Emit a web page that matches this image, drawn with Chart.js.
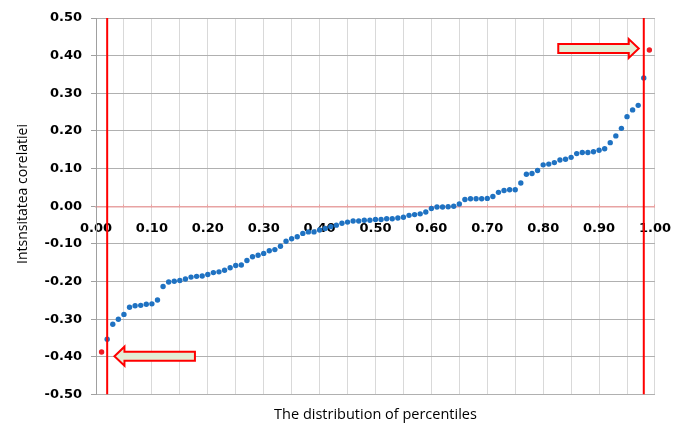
<!DOCTYPE html>
<html>
<head>
<meta charset="utf-8">
<script src="https://cdn.jsdelivr.net/npm/chart.js@4/dist/chart.umd.min.js"></script>
<style>
  html, body { margin: 0; padding: 0; background: #fff; }
  #wrap { width: 689px; height: 424px; }
</style>
</head>
<body>
<div id="wrap"><canvas id="chart" width="689" height="424"></canvas></div>
<script>
// Percentiles (x) and correlation strength (y)
const blueX = [0.02, 0.03, 0.04, 0.05, 0.06, 0.07, 0.08, 0.09, 0.10,
    0.11, 0.12, 0.13, 0.14, 0.15, 0.16, 0.17, 0.18, 0.19, 0.20,
    0.21, 0.22, 0.23, 0.24, 0.25, 0.26, 0.27, 0.28, 0.29, 0.30,
    0.31, 0.32, 0.33, 0.34, 0.35, 0.36, 0.37, 0.38, 0.39, 0.40,
    0.41, 0.42, 0.43, 0.44, 0.45, 0.46, 0.47, 0.48, 0.49, 0.50,
    0.51, 0.52, 0.53, 0.54, 0.55, 0.56, 0.57, 0.58, 0.59, 0.60,
    0.61, 0.62, 0.63, 0.64, 0.65, 0.66, 0.67, 0.68, 0.69, 0.70,
    0.71, 0.72, 0.73, 0.74, 0.75, 0.76, 0.77, 0.78, 0.79, 0.80,
    0.81, 0.82, 0.83, 0.84, 0.85, 0.86, 0.87, 0.88, 0.89, 0.90,
    0.91, 0.92, 0.93, 0.94, 0.95, 0.96, 0.97, 0.98];
const blueY = [-0.353, -0.313, -0.300, -0.287, -0.268, -0.264, -0.263, -0.260, -0.259,
    -0.249, -0.213, -0.201, -0.199, -0.197, -0.193, -0.188, -0.186, -0.185, -0.181,
    -0.176, -0.174, -0.170, -0.163, -0.157, -0.156, -0.144, -0.134, -0.130, -0.125,
    -0.118, -0.115, -0.106, -0.093, -0.086, -0.081, -0.072, -0.068, -0.068, -0.063,
    -0.059, -0.054, -0.050, -0.045, -0.042, -0.039, -0.039, -0.037, -0.037, -0.035,
    -0.035, -0.033, -0.033, -0.031, -0.029, -0.024, -0.022, -0.020, -0.015, -0.006,
    -0.002, -0.002, -0.001, 0.000, 0.006, 0.018, 0.020, 0.020, 0.020, 0.021,
    0.026, 0.037, 0.042, 0.044, 0.044, 0.062, 0.085, 0.087, 0.095, 0.110,
    0.112, 0.116, 0.123, 0.125, 0.130, 0.140, 0.143, 0.143, 0.145, 0.149,
    0.153, 0.169, 0.187, 0.207, 0.238, 0.256, 0.268, 0.341];

// Extremes (outside the cut-offs)
const redX = [0.01, 0.99];
const redY = [-0.387, 0.415];

// Cut-off lines
const cutoffs = [0.02, 0.98];

// Arrows: tip [x, y] and tail x, in data units
const arrowTips = [[0.033, -0.398], [0.971, 0.419]];
const arrowTails = [0.177, 0.827];

const yTitle = 'Intsnsitatea corelatiei';
const xTitle = 'The distribution of percentiles';

function toPoints(xs, ys) {
    return xs.map(function (x, i) { return { x: x, y: ys[i] }; });
}

const tickFont = { family: 'DejaVu Sans', size: 13, weight: 'bold' };
const titleFamily = 'Open Sans';

// Draw the y title and the two arrows
const extrasPlugin = {
    id: 'extras',
    afterDraw(chart) {
        const ctx = chart.ctx;
        const xs = chart.scales.x, ys = chart.scales.y;

        ctx.save();
        ctx.fillStyle = '#000';
        ctx.font = '14px "' + titleFamily + '"';
        ctx.textAlign = 'center';
        ctx.textBaseline = 'middle';
        ctx.translate(23, 194);
        ctx.rotate(-Math.PI / 2);
        ctx.fillText(yTitle, 0, 0);
        ctx.restore();

        arrowTips.forEach(function (tip, i) {
            const tipX = xs.getPixelForValue(tip[0]);
            const y = ys.getPixelForValue(tip[1]);
            const tailX = xs.getPixelForValue(arrowTails[i]);
            const dir = tailX > tipX ? 1 : -1;
            const headX = tipX + dir * 10;
            const bh = 4.5, hh = 9.5;
            ctx.save();
            ctx.beginPath();
            ctx.moveTo(tailX, y - bh);
            ctx.lineTo(headX, y - bh);
            ctx.lineTo(headX, y - hh);
            ctx.lineTo(tipX, y);
            ctx.lineTo(headX, y + hh);
            ctx.lineTo(headX, y + bh);
            ctx.lineTo(tailX, y + bh);
            ctx.closePath();
            ctx.fillStyle = '#e3eed6';
            ctx.fill();
            ctx.lineWidth = 2;
            ctx.strokeStyle = '#ff0000';
            ctx.stroke();
            ctx.restore();
        });
    }
};

const datasets = [
    {
        label: 'cutoff low',
        type: 'line',
        data: [{ x: cutoffs[0], y: -0.5 }, { x: cutoffs[0], y: 0.5 }],
        borderColor: '#ff0000',
        borderWidth: 2,
        pointRadius: 0,
        order: 0
    },
    {
        label: 'cutoff high',
        type: 'line',
        data: [{ x: cutoffs[1], y: -0.5 }, { x: cutoffs[1], y: 0.5 }],
        borderColor: '#ff0000',
        borderWidth: 2,
        pointRadius: 0,
        order: 0
    },
    {
        label: 'percentiles',
        data: toPoints(blueX, blueY),
        backgroundColor: '#1f72c2',
        borderWidth: 0,
        pointRadius: 2.7,
        order: 1
    },
    {
        label: 'extremes',
        data: toPoints(redX, redY),
        backgroundColor: '#ee1c24',
        borderWidth: 0,
        pointRadius: 2.7,
        order: 1
    }
];

new Chart(document.getElementById('chart').getContext('2d'), {
    type: 'scatter',
    data: { datasets: datasets },
    plugins: [extrasPlugin],
    options: {
        responsive: false,
        animation: false,
        layout: { padding: { left: 0, top: 18, right: 30, bottom: 0 } },
        plugins: {
            legend: { display: false },
            tooltip: { enabled: false },
            title: {
                display: true,
                position: 'bottom',
                fullSize: false,
                text: xTitle,
                color: '#000',
                font: { family: titleFamily, size: 14.5, weight: 'normal' },
                padding: { top: 12, bottom: 0 }
            }
        },
        scales: {
            x: {
                type: 'linear',
                min: 0,
                max: 1,
                position: { y: 0 },
                ticks: {
                    stepSize: 0.05,
                    autoSkip: false,
                    maxRotation: 0,
                    padding: 18,
                    color: '#000',
                    font: tickFont,
                    callback: function (v) {
                        return Math.round(v * 100) % 10 === 0 ? v.toFixed(2) : '';
                    }
                },
                grid: {
                    color: '#d9d9d9',
                    tickColor: '#e8a3a3',
                    tickLength: -3
                },
                border: { color: '#e8a3a3', width: 1.5 }
            },
            y: {
                min: -0.5,
                max: 0.5,
                ticks: {
                    stepSize: 0.1,
                    padding: 9,
                    color: '#000',
                    font: tickFont,
                    callback: function (v) { return v.toFixed(2); }
                },
                grid: {
                    color: function (c) {
                        return c.tick && Math.abs(c.tick.value) < 1e-9 ? 'rgba(0,0,0,0)' : '#b0b0b0';
                    },
                    tickColor: '#a0a0a0',
                    tickLength: 5
                },
                border: { color: '#a0a0a0' },
                afterFit: function (scale) { scale.width = 96; }
            }
        }
    }
});
</script>
</body>
</html>
